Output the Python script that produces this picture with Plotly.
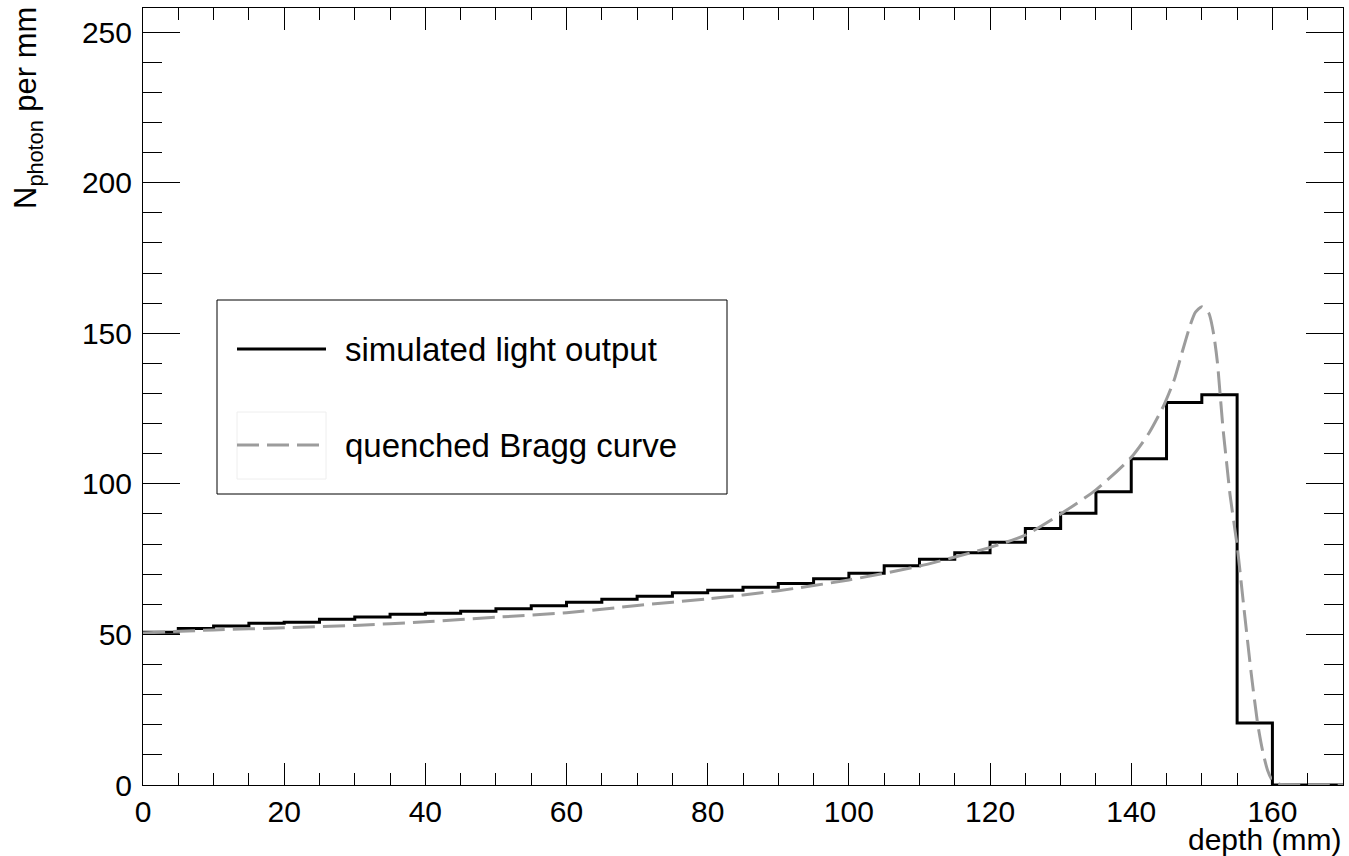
import plotly.graph_objects as go

# ---------------- data ----------------
bin_left = [0, 5, 10, 15, 20, 25, 30, 35, 40, 45, 50, 55, 60, 65, 70, 75, 80, 85,
            90, 95, 100, 105, 110, 115, 120, 125, 130, 135, 140, 145, 150, 155, 160, 165]
bin_right_edge = 170
light_output = [50.7, 52.0, 52.8, 53.7, 54.0, 55.0, 55.8, 56.7, 57.0, 57.7, 58.5, 59.5,
                60.7, 61.7, 62.7, 63.8, 64.7, 65.7, 66.9, 68.5, 70.3, 72.8, 75.0, 77.1,
                80.6, 85.2, 90.2, 97.4, 108.3, 127.0, 129.6, 20.6, 0.0, 0.0]

bragg_depth = [0, 10, 20, 30, 40, 50, 60, 70, 80, 90, 100, 110, 120, 125, 130, 135,
               140, 142.5, 144.6, 146.1, 147.2, 148.4, 149.1, 150.0, 151.0, 151.7,
               152.2, 152.6, 153.0, 153.5, 154.0, 155.0, 156.0, 157.0, 157.9, 158.6,
               159.3, 160.0, 161.0, 162.5, 164.0, 170.0]
bragg_value = [50.5, 51.5, 52.2, 53.0, 54.2, 55.7, 57.2, 59.6, 61.8, 64.5, 68.1, 72.7,
               78.9, 83.0, 90.0, 98.0, 108.8, 116.8, 126.0, 134.6, 143.6, 153.0, 157.0,
               158.8, 156.6, 149.4, 140.5, 129.5, 118.4, 107.3, 96.3, 79.5, 58.0, 37.0,
               20.5, 11.5, 5.0, 1.5, 0.3, 0.05, 0.0, 0.0]

x_tick_step = 20
y_tick_step = 50
x_range = [0, 170]
y_range = [0, 258]

legend_labels = ["simulated light output", "quenched Bragg curve"]
x_title = "depth (mm)"
y_title = "N<sub>photon</sub> per mm"

FONT = "Liberation Sans, Arial, Helvetica, sans-serif"
GRAY = "#9c9c9c"

# ---------------- figure ----------------
fig = go.Figure()

hist_x = bin_left + [bin_right_edge]
hist_y = light_output + [light_output[-1]]
fig.add_trace(go.Scatter(
    x=hist_x, y=hist_y, mode="lines", name=legend_labels[0],
    line=dict(color="black", width=3, shape="hv"), hoverinfo="skip"))

fig.add_trace(go.Scatter(
    x=bragg_depth, y=bragg_value, mode="lines", name=legend_labels[1],
    line=dict(color=GRAY, width=3, dash="22px,8px", shape="spline", smoothing=0.6),
    hoverinfo="skip"))

axis_common = dict(
    showgrid=False, zeroline=False, showline=True, linecolor="black", linewidth=1,
    mirror="ticks", ticks="inside", tickcolor="black", tickwidth=1,
    tickfont=dict(family=FONT, size=30, color="black"))

fig.update_xaxes(range=x_range, tick0=0, dtick=x_tick_step, ticklen=22,
                 minor=dict(ticks="inside", ticklen=12, dtick=5, tickcolor="black",
                            tickwidth=1, showgrid=False),
                 ticklabelstandoff=0, **axis_common)
fig.update_yaxes(range=y_range, tick0=0, dtick=y_tick_step, ticklen=37,
                 minor=dict(ticks="inside", ticklen=19, dtick=10, tickcolor="black",
                            tickwidth=1, showgrid=False),
                 ticklabelstandoff=4, **axis_common)

L, R, T, B = 143, 6, 8, 71
W, H = 1349, 856
pw, ph = W - L - R, H - T - B


def px(X):
    return (X - L) / pw


def py(Y):
    return (H - B - Y) / ph


shapes = [
    dict(type="rect", xref="paper", yref="paper", x0=px(217), x1=px(727),
         y0=py(494), y1=py(300), line=dict(color="black", width=1),
         fillcolor="white", layer="above"),
    dict(type="rect", xref="paper", yref="paper", x0=px(237), x1=px(326),
         y0=py(479), y1=py(412), line=dict(color="#eeeeee", width=1), layer="above"),
    dict(type="line", xref="paper", yref="paper", x0=px(237), x1=px(326),
         y0=py(349), y1=py(349), line=dict(color="black", width=3), layer="above"),
    dict(type="line", xref="paper", yref="paper", x0=px(237), x1=px(326),
         y0=py(445), y1=py(445), line=dict(color=GRAY, width=3, dash="22px,8px"),
         layer="above"),
]

annotations = [
    dict(text=legend_labels[0], xref="paper", yref="paper", x=px(343), y=py(349),
         xanchor="left", yanchor="middle", showarrow=False,
         font=dict(family=FONT, size=33, color="black")),
    dict(text=legend_labels[1], xref="paper", yref="paper", x=px(343), y=py(445),
         xanchor="left", yanchor="middle", showarrow=False,
         font=dict(family=FONT, size=33, color="black")),
    dict(text=x_title, xref="paper", yref="paper", x=1.0, y=py(821),
         xanchor="right", yanchor="top", showarrow=False,
         font=dict(family=FONT, size=30, color="black")),
    dict(text=y_title, xref="paper", yref="paper", x=px(6), y=py(5),
         xanchor="left", yanchor="top", showarrow=False, textangle=-90,
         font=dict(family=FONT, size=31, color="black")),
]

fig.update_layout(
    width=W, height=H, margin=dict(l=L, r=R, t=T, b=B, pad=0),
    plot_bgcolor="white", paper_bgcolor="white", showlegend=False,
    shapes=shapes, annotations=annotations,
    font=dict(family=FONT, color="black"))

fig.write_html(
    "out.html",
    config={"displayModeBar": False},
    post_script="document.body.style.margin='0px';document.body.style.overflow='hidden';")
